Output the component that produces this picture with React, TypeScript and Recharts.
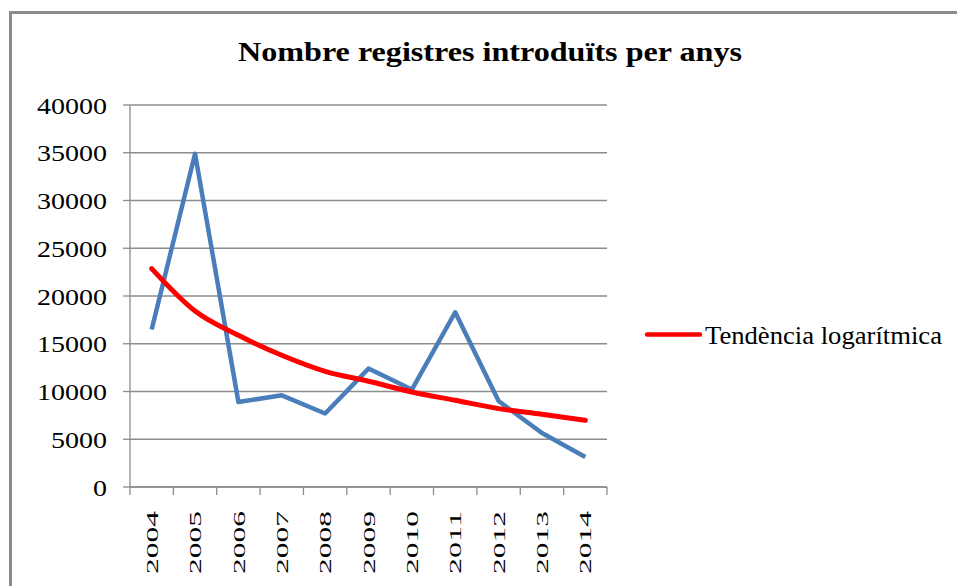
import React from 'react';
import { LineChart, Line, XAxis, YAxis, CartesianGrid } from 'recharts';

const years = ['2004', '2005', '2006', '2007', '2008', '2009', '2010', '2011', '2012', '2013', '2014'];
const registres = [16500, 34900, 8900, 9600, 7700, 12400, 10200, 18300, 9000, 5650, 3150];
const tendencia = [22870, 18430, 15880, 13790, 12110, 11070, 9950, 9080, 8210, 7610, 6980];
const yTicks = [0, 5000, 10000, 15000, 20000, 25000, 30000, 35000, 40000];

const title = 'Nombre registres introduïts per anys';
const legendLabel = 'Tendència logarítmica';

const data = years.map((year, i) => ({ year, registres: registres[i], tendencia: tendencia[i] }));

const W = 957;
const H = 586;
const M = { top: 105, right: 350, bottom: 0, left: 0 };
const Y_W = 130;
const X_H = 99;
const PLOT_W = W - M.left - M.right - Y_W;
const BAND = PLOT_W / years.length;
const GRID = '#8c8c8c';
const FONT = "'Liberation Serif', serif";
const X_TICK_SIZE = 8;
const X_TICK_MARGIN = 16;

const YTick = (props: any) => {
  const { x, y, payload } = props;
  const s = String(payload.value);
  return (
    <text
      x={x}
      y={y}
      dy="0.36em"
      textAnchor="end"
      style={{ fontFamily: FONT }}
      fontSize={24}
      fill="#000"
      textLength={14 * s.length}
      lengthAdjust="spacingAndGlyphs"
    >
      {s}
    </text>
  );
};

const XTick = (props: any) => {
  const { x, y, payload, index } = props;
  const top = y - X_TICK_SIZE - X_TICK_MARGIN;
  const left = x - BAND / 2;
  return (
    <g>
      <line x1={left} x2={left} y1={top} y2={top + X_TICK_SIZE} stroke={GRID} strokeWidth={1.3} />
      {index === years.length - 1 && (
        <line x1={x + BAND / 2} x2={x + BAND / 2} y1={top} y2={top + X_TICK_SIZE} stroke={GRID} strokeWidth={1.3} />
      )}
      <text
        transform={`rotate(-90 ${x} ${y})`}
        x={x}
        y={y}
        dy="0.36em"
        textAnchor="end"
        style={{ fontFamily: FONT }}
        fontSize={17}
        fill="#000"
        textLength={63}
        lengthAdjust="spacingAndGlyphs"
      >
        {payload.value}
      </text>
    </g>
  );
};

export default function App() {
  return (
    <div style={{ position: 'absolute', left: 0, top: 0, width: W, height: H, overflow: 'hidden', background: '#fff' }}>
      <LineChart width={W} height={H} data={data} margin={M}>
        <CartesianGrid vertical={false} stroke={GRID} strokeWidth={1.3} />
        <XAxis
          dataKey="year"
          height={X_H}
          padding={{ left: BAND / 2, right: BAND / 2 }}
          axisLine={{ stroke: GRID, strokeWidth: 1.3 }}
          tickLine={false}
          tickSize={X_TICK_SIZE}
          tickMargin={X_TICK_MARGIN}
          tick={<XTick />}
          interval={0}
        />
        <YAxis
          width={Y_W}
          domain={[0, 40000]}
          ticks={yTicks}
          interval={0}
          axisLine={{ stroke: GRID, strokeWidth: 1.3 }}
          tickLine={{ stroke: GRID, strokeWidth: 1.3 }}
          tickSize={7}
          tickMargin={16}
          tick={<YTick />}
        />
        <Line
          type="linear"
          dataKey="registres"
          stroke="#4A7EBB"
          strokeWidth={4.5}
          dot={false}
          activeDot={false}
          isAnimationActive={false}
          strokeLinejoin="round"
        />
        <Line
          type="monotone"
          dataKey="tendencia"
          stroke="#FF0000"
          strokeWidth={5}
          dot={false}
          activeDot={false}
          isAnimationActive={false}
          strokeLinecap="round"
        />
      </LineChart>
      <svg width={W} height={H} style={{ position: 'absolute', left: 0, top: 0, pointerEvents: 'none' }}>
        <rect x={10.5} y={12.5} width={1000} height={1000} fill="none" stroke="#8c8c8c" strokeWidth={3} />
        <text
          x={490}
          y={61}
          textAnchor="middle"
          style={{ fontFamily: FONT }}
          fontWeight="bold"
          fontSize={27}
          fill="#000"
          textLength={504}
          lengthAdjust="spacingAndGlyphs"
        >
          {title}
        </text>
        <line x1={647} x2={700} y1={334.5} y2={334.5} stroke="#FF0000" strokeWidth={4.5} strokeLinecap="round" />
        <text
          x={705}
          y={334.5}
          dy="0.36em"
          style={{ fontFamily: FONT }}
          fontSize={25}
          fill="#000"
          textLength={237}
          lengthAdjust="spacingAndGlyphs"
        >
          {legendLabel}
        </text>
      </svg>
    </div>
  );
}
